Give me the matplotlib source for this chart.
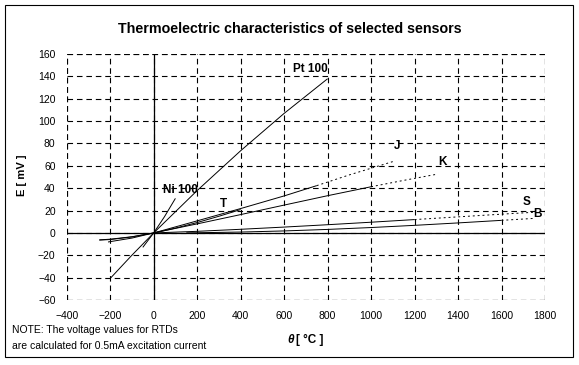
import matplotlib.pyplot as plt
from matplotlib.patches import Rectangle

plt.rcParams['font.family'] = ['Liberation Sans', 'DejaVu Sans']

title = 'Thermoelectric characteristics of selected sensors'
x_ticks = [-400, -200, 0, 200, 400, 600, 800, 1000, 1200, 1400, 1600, 1800]
y_ticks = [-60, -40, -20, 0, 20, 40, 60, 80, 100, 120, 140, 160]

# RTDs (voltage change at 0.5 mA)
pt_T = [-200, -100, 0, 200, 400, 600, 800]
pt_E = [-40.7, -19.9, 0, 37.9, 73.5, 106.9, 137.9]
ni_T = [-50, 0, 50, 100]
ni_E = [-12.9, 0, 14.6, 30.9]

# thermocouples, solid part
t_T = [-250, -200, -100, 0, 100, 200, 300, 400]
t_E = [-6.2, -5.6, -3.4, 0, 4.3, 9.3, 14.9, 20.9]
j_T = [-210, -100, 0, 200, 400, 600, 750]
j_E = [-8.1, -4.6, 0, 10.8, 21.8, 33.1, 42.3]
k_T = [-250, -200, -100, 0, 200, 400, 600, 800, 1000]
k_E = [-6.4, -5.9, -3.6, 0, 8.1, 16.4, 24.9, 33.3, 41.3]
s_T = [0, 200, 400, 600, 800, 1000, 1200]
s_E = [0, 1.44, 3.26, 5.24, 7.35, 9.59, 11.95]
b_T = [150, 200, 400, 600, 800, 1000, 1200, 1400, 1600]
b_E = [0.09, 0.18, 0.79, 1.79, 3.15, 4.83, 6.79, 8.96, 11.26]

# thermocouples, dotted (extended) part
j_T2 = [750, 900, 1100]
j_E2 = [42.3, 51.9, 63.8]
k_T2 = [1000, 1150, 1300]
k_E2 = [41.3, 47.0, 52.4]
s_T2 = [1200, 1400, 1600, 1750]
s_E2 = [11.95, 14.37, 16.78, 18.5]
b_T2 = [1600, 1700, 1750]
b_E2 = [11.26, 12.43, 13.0]

labels = ['Pt 100', 'J', 'K', 'Ni 100', 'T', 'S', 'B']
label_x = [720, 1120, 1327, 123, 321, 1714, 1764]
label_y = [147, 77.7, 63.4, 38.4, 25.9, 27.7, 17]

fig = plt.figure(figsize=(5.79, 3.65), dpi=100)
ax = fig.add_axes([0.1152, 0.178, 0.8261, 0.674])

fig.patches.append(Rectangle((0.0086, 0.0219), 0.981, 0.964, transform=fig.transFigure,
                             fill=False, edgecolor='black', linewidth=0.8))

lw = 0.7
for T, E in [(pt_T, pt_E), (ni_T, ni_E), (t_T, t_E), (j_T, j_E), (k_T, k_E), (s_T, s_E), (b_T, b_E)]:
    ax.plot(T, E, color='black', linewidth=lw, solid_capstyle='butt')
for T, E in [(j_T2, j_E2), (k_T2, k_E2), (s_T2, s_E2), (b_T2, b_E2)]:
    ax.plot(T, E, color='black', linewidth=lw, linestyle=(0, (2, 3)))

ax.axhline(0, color='black', linewidth=0.9)
ax.axvline(0, color='black', linewidth=0.9)

ax.set_xlim(-400, 1800)
ax.set_ylim(-60, 160)
ax.set_xticks(x_ticks)
ax.set_yticks(y_ticks)
ax.grid(True, color='black', linestyle=(0, (5, 3.5)), linewidth=0.8)
for s in ax.spines.values():
    s.set_visible(False)
for v in [-400, 1800]:
    ax.axvline(v, color='black', linestyle=(0, (5, 3.5)), linewidth=0.8)
for v in [-60, 160]:
    ax.axhline(v, color='black', linestyle=(0, (5, 3.5)), linewidth=0.8)
ax.tick_params(length=0, labelsize=7.5, pad=8)

for name, x, y in zip(labels, label_x, label_y):
    ax.text(x, y, name, ha='center', va='center', fontsize=8.5, fontweight='bold')

fig.text(0.5, 0.921, title, ha='center', va='center', fontsize=10.3, fontweight='bold')
fig.text(0.038, 0.52, 'E [ mV ]', rotation=90, ha='center', va='center', fontsize=8, fontweight='bold')
fig.text(0.507, 0.069, '\u03b8', ha='right', va='center', fontsize=8.5, fontweight='bold', style='italic')
fig.text(0.512, 0.069, '[ \u00b0C ]', ha='left', va='center', fontsize=8.5, fontweight='bold')
fig.text(0.021, 0.096, 'NOTE: The voltage values for RTDs', ha='left', va='center', fontsize=7.5)
fig.text(0.021, 0.052, 'are calculated for 0.5mA excitation current', ha='left', va='center', fontsize=7.5)

fig.savefig('out.png', dpi=100)
